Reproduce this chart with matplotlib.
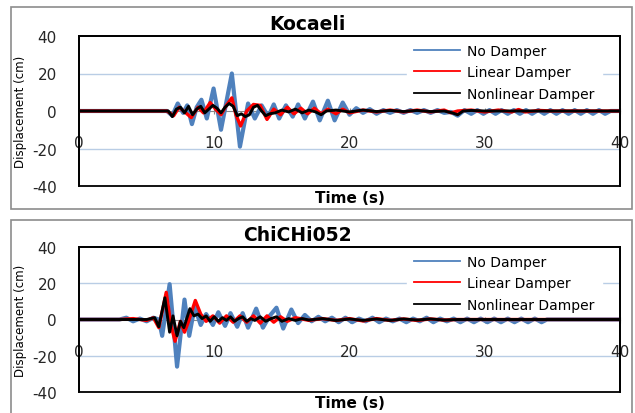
import numpy as np
import matplotlib.pyplot as plt
from matplotlib.lines import Line2D
from matplotlib.patches import Rectangle

plt.rcParams['axes.unicode_minus'] = False

# Kocaeli record - time (s) and displacement (cm)
t_koc_nd = [0, 6.5, 6.9, 7.3, 7.7, 8.0, 8.35, 8.7, 9.05, 9.45, 9.95, 10.5, 11.3, 11.9, 12.5, 13.0,
            13.5, 14.0, 14.4, 14.8, 15.3, 15.8, 16.2, 16.7, 17.3, 17.8, 18.4, 18.9, 19.5, 20.0,
            20.5, 21.0, 21.5, 22.0, 22.5, 23.0, 23.5, 24.0, 24.5, 25.0, 25.5, 26.0, 26.5, 27.0,
            27.5, 28.0, 28.5, 29.0, 29.45, 29.9, 30.35, 30.8, 31.25, 31.7, 32.15, 32.6, 33.05,
            33.5, 33.95, 34.4, 34.85, 35.3, 35.75, 36.2, 36.65, 37.1, 37.55, 38.0, 38.45, 38.9,
            39.3, 40]
d_koc_nd = [0, 0, -2.5, 4, -1, 3, -7, 2, 6, -4, 12, -10, 20, -19, 4, -4,
            3, -3, 3.5, -4, 3, -3, 3.5, -4, 5, -5, 5.5, -5, 4.5, -2,
            1.5, -1, 1, -1.5, 0.5, -1, 0.5, -1, 0.5, -1, 0.5, -1, 0.5, -1,
            -0.5, -2.5, 0.5, -1.5, 0.5, -1.5, 0.5, -1.5, 0.5, -1.5, 0.5, -1.5, 0.5,
            -1.5, 0.5, -1.5, 0.5, -1.5, 0.5, -1.5, 0.5, -1.5, 0.5, -1.5, 0.5, -1.5,
            0, 0]

t_koc_ld = [0, 6.5, 7.0, 7.4, 7.9, 8.3, 8.8, 9.2, 9.7, 10.1, 10.5, 10.9, 11.3, 11.6, 11.95, 12.4,
            12.9, 13.4, 13.9, 14.4, 14.9, 15.4, 15.9, 16.4, 16.9, 17.4, 17.9, 18.4, 19.0, 19.5,
            20.0, 21.0, 22.0, 23.0, 24.0, 25.0, 26.0, 27.0, 27.5, 28.0, 29.0, 30.0, 31.0, 32.0,
            32.5, 33.0, 34.0, 35.0, 40]
d_koc_ld = [0, 0, -2.5, 2, -1, -3.5, 2, -1, 4.5, 1, -2, 3, 7, -2, -8, 0,
            3.5, 3, -4.5, 1, -2, 2, -1.5, 1.5, -1.5, 1.5, -1.5, 1, -1.5, 1,
            -1, 0.5, -0.5, 0.5, -0.5, 0.5, -0.5, 0.5, -1, 0, 0.5, -0.5, 0.5, -0.5,
            0.8, -0.5, 0.3, 0, 0]

t_koc_nl = [0, 6.6, 6.9, 7.2, 7.5, 7.8, 8.1, 8.4, 8.7, 9.0, 9.3, 9.6, 9.9, 10.2, 10.5, 10.8,
            11.1, 11.4, 11.7, 12.0, 12.3, 12.6, 12.9, 13.2, 13.5, 13.8, 14.1, 14.5, 15.0, 15.5,
            16.0, 16.5, 17.0, 17.5, 17.9, 18.3, 19.0, 20.0, 21.0, 22.0, 23.0, 24.0, 25.0, 26.0,
            27.0, 27.6, 28.0, 28.4, 29.0, 30.0, 40]
d_koc_nl = [0, 0, -3, 1, 2, -1, 2.5, -2, 1, 2.5, -1, 1, 3, 1.5, -1, 2,
            4, 2.5, -2.5, -1.5, -3, -2, 2, 3, 0, -2.5, -1.5, -1, 0.5, -0.5,
            1, -1, 0.5, -0.5, -2, 0, 0.5, -0.5, 0.5, -0.3, 0.3, -0.3, 0.3, -0.3,
            0, -1, -2, 0, 0.3, 0, 0]

# ChiChi052 record
t_chi_nd = [0, 3.0, 3.5, 4.0, 4.5, 5.0, 5.5, 5.9, 6.15, 6.7, 7.0, 7.25, 7.8, 8.15, 8.55, 9.0,
            9.4, 9.9, 10.3, 10.8, 11.2, 11.7, 12.1, 12.5, 13.1, 13.6, 14.1, 14.6, 15.1, 15.7,
            16.2, 16.7, 17.2, 17.7, 18.2, 18.7, 19.2, 19.7, 20.2, 20.7, 21.2, 21.7, 22.2, 22.7,
            23.2, 23.7, 24.2, 24.7, 25.2, 25.7, 26.2, 26.7, 27.2, 27.7, 28.2, 28.7, 29.2, 29.7,
            30.2, 30.7, 31.2, 31.7, 32.2, 32.7, 33.2, 33.7, 34.2, 34.6, 40]
d_chi_nd = [0, 0, 1, -1, 0.5, -1, 1, 0, -9, 19.5, -5, -26, 11, -9, 7, -3,
            3, -3, 4, -3.5, 3.5, -4, 3.5, -4.5, 6, -4.5, 2, 6.5, -5, 5.5,
            -2, 2.5, -1, 1.5, -1, 1, -1.5, 1, -1.5, 0.5, -1, 1, -1.5, 0.5,
            -1, 0.5, -1.5, 0.5, -1, 1, -1.5, 0.5, -1, 0.5, -1.5, 0.5, -1.5, 0.5,
            -1.5, 0.5, -1.5, 0.5, -1.5, 0.5, -1.5, 0.5, -1.5, 0, 0]

t_chi_ld = [0, 3.0, 4.0, 5.0, 5.5, 5.9, 6.45, 6.8, 7.1, 7.5, 7.8, 8.1, 8.6, 9.0, 9.4, 9.9,
            10.4, 10.9, 11.4, 11.9, 12.4, 12.9, 13.4, 13.9, 14.4, 14.9, 15.4, 16.0, 17.0, 18.0,
            19.0, 20.0, 21.0, 22.0, 23.0, 24.0, 25.0, 26.0, 27.0, 28.0, 40]
d_chi_ld = [0, 0, 0.5, -0.5, 1, -4.5, 15, -3, -12, -1, -7, -1, 10.5, 3, -1, 2,
            -2, 2, -1.5, 2, -1.5, 2, -2, 2, -1.5, 1.5, -1, 1, -0.5, 0.5,
            -0.5, 0.5, -0.8, 0.5, -0.5, 0.3, -0.5, 0.3, -0.3, 0, 0]

t_chi_nl = [0, 3.0, 5.0, 5.6, 5.9, 6.35, 6.7, 6.95, 7.25, 7.5, 7.75, 8.2, 8.5, 8.8, 9.1, 9.4,
            9.7, 10.0, 10.3, 10.6, 10.9, 11.2, 11.5, 11.8, 12.1, 12.4, 12.7, 13.0, 13.4, 13.8,
            14.2, 14.6, 15.0, 15.5, 16.0, 16.5, 17.0, 18.0, 19.0, 20.0, 21.0, 22.0, 23.0, 24.0,
            25.0, 26.0, 27.0, 28.0, 40]
d_chi_nl = [0, 0, 0, 1, -4, 12, -7, 2, -9, -1, -4.5, 6, 2, 3, 0.5, 2,
            -1, 1.5, -1, 1, -0.5, 1.5, -1, 0.5, 1.5, -1, 0.5, -0.5, 1.5, -1,
            0.5, 1.5, -1, 0.5, -0.5, 0.5, -0.3, 0.5, -0.5, 0.3, -0.5, 0.3, -0.5, 0.3,
            -0.3, 0.3, -0.3, 0, 0]

labels = ['No Damper', 'Linear Damper', 'Nonlinear Damper']
colors = ['#4F81BD', '#FF0000', '#000000']
widths = [3.0, 2.4, 2.1]
x_ticks = [0, 10, 20, 30, 40]
y_ticks = [-40, -20, 0, 20, 40]

W, H = 635, 414
fig = plt.figure(figsize=(W / 100, H / 100), dpi=100)

# grey boxes around each chart (excel chart areas)
fig.patches.append(Rectangle((11 / W, 1 - 210 / H), 621 / W, 202 / H, transform=fig.transFigure,
                             fill=False, edgecolor='#8c8c8c', lw=1.2))
fig.patches.append(Rectangle((11 / W, -0.05), 621 / W, 1 - 221 / H + 0.05, transform=fig.transFigure,
                             fill=False, edgecolor='#8c8c8c', lw=1.2))


def draw_panel(ax, title, series, title_x, title_off, xlab_off):
    ax.set_xlim(0, 40)
    ax.set_ylim(-40, 40)
    for (t, d), c, lw in zip(series, colors, widths):
        ax.plot(t, d, color=c, lw=lw, solid_joinstyle='round', zorder=3)
    for y in [-20, 20]:
        ax.axhline(y, color='#B9CDE5', lw=1, zorder=0)
    # x axis crosses at zero like excel
    for s in ['top', 'right', 'left']:
        ax.spines[s].set_color('black')
        ax.spines[s].set_linewidth(1.3)
    ax.spines['bottom'].set_position(('data', 0))
    ax.spines['bottom'].set_color('#888888')
    ax.spines['bottom'].set_linewidth(0.8)
    ax.spines['bottom'].set_zorder(0)
    ax.add_patch(Rectangle((0, 0), 1, 1, transform=ax.transAxes, fill=False,
                           edgecolor='black', lw=1.3, zorder=5, clip_on=False))
    ax.set_xticks(x_ticks)
    ax.set_yticks(y_ticks)
    ax.tick_params(axis='x', direction='inout', length=5, color='#888888', pad=15,
                   labelsize=11, labelcolor='#262626')
    ax.tick_params(axis='y', length=0, pad=16, labelsize=11, labelcolor='#262626')
    ax.set_ylabel('Displacement (cm)', fontsize=8.5)
    ax.yaxis.set_label_coords(-0.096, 0.5)
    ax.text(title_x, 1 + title_off, title, transform=ax.transAxes, ha='center', va='center',
            fontsize=13.5, fontweight='bold')
    ax.text(0.5, -xlab_off, 'Time (s)', transform=ax.transAxes, ha='center', va='center',
            fontsize=11, fontweight='bold')
    handles = [Line2D([], [], color=c, lw=1.3) for c in colors]
    leg = ax.legend(handles, labels, loc='upper left', bbox_to_anchor=(0.606, 1.0),
                    borderaxespad=0, frameon=True, fancybox=False, framealpha=1,
                    edgecolor='white', facecolor='white', fontsize=10,
                    handlelength=3.3, handletextpad=0.45, labelspacing=0.55, borderpad=0.55)
    leg.set_zorder(1)


ax1 = fig.add_axes([79 / W, 1 - 187 / H, 541 / W, 150 / H])
draw_panel(ax1, 'Kocaeli', [(t_koc_nd, d_koc_nd), (t_koc_ld, d_koc_ld), (t_koc_nl, d_koc_nl)],
           (307 - 79) / 541, 13 / 150, 12 / 150)

ax2 = fig.add_axes([79 / W, 1 - 393 / H, 541 / W, 145 / H])
draw_panel(ax2, 'ChiCHi052', [(t_chi_nd, d_chi_nd), (t_chi_ld, d_chi_ld), (t_chi_nl, d_chi_nl)],
           (297 - 79) / 541, 12.5 / 145, 11 / 145)

plt.savefig('out.png', dpi=100)
